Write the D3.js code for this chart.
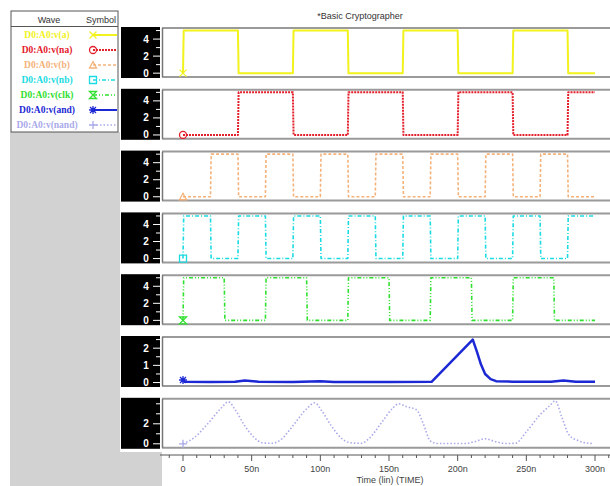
<!DOCTYPE html>
<html><head><meta charset="utf-8">
<script src="https://cdn.jsdelivr.net/npm/d3@7"></script>
<style>body{margin:0;background:#fff;}svg{display:block;}</style>
</head><body>
<script>
// ---- data (time in ns, value in V) ----
const sigA = [[0,0],[0.5,5],[40,5],[40.5,0],[80,0],[80.5,5],[120,5],[120.5,0],[160,0],[160.5,5],[200,5],[200.5,0],[240,0],[240.5,5],[280,5],[280.5,0],[300,0]];
const sigNA = [[0,0],[40,0],[40.5,5],[80,5],[80.5,0],[120,0],[120.5,5],[160,5],[160.5,0],[200,0],[200.5,5],[240,5],[240.5,0],[280,0],[280.5,5],[300,5]];
const sigB = [[0,0],[20,0],[20.5,5],[40,5],[40.5,0],[60,0],[60.5,5],[80,5],[80.5,0],[100,0],[100.5,5],[120,5],[120.5,0],[140,0],[140.5,5],[160,5],[160.5,0],[180,0],[180.5,5],[200,5],[200.5,0],[220,0],[220.5,5],[240,5],[240.5,0],[260,0],[260.5,5],[280,5],[280.5,0],[300,0]];
const sigNB = [[0,0],[0.5,5],[20,5],[20.5,0],[40,0],[40.5,5],[60,5],[60.5,0],[80,0],[80.5,5],[100,5],[100.5,0],[120,0],[120.5,5],[140,5],[140.5,0],[160,0],[160.5,5],[180,5],[180.5,0],[200,0],[200.5,5],[220,5],[220.5,0],[240,0],[240.5,5],[260,5],[260.5,0],[280,0],[280.5,5],[300,5]];
const sigCLK = [[0,0],[0.5,5],[30,5],[30.5,0],[60,0],[60.5,5],[90,5],[90.5,0],[120,0],[120.5,5],[150,5],[150.5,0],[180,0],[180.5,5],[210,5],[210.5,0],[240,0],[240.5,5],[270,5],[270.5,0],[300,0]];
const sigAND = [[0,0.15],[1,0.05],[20,0.03],[38,0.05],[45,0.12],[55,0.05],[80,0.03],[100,0.07],[110,0.03],[150,0.03],[181,0.04],[211,2.5],[214,1.8],[217,1.05],[220,0.5],[224,0.2],[228,0.08],[240,0.05],[268,0.05],[277,0.12],[286,0.05],[300,0.05]];
const sigNAND = [[0,0],[8,0.6],[18,2],[28,3.6],[33,4.2],[38,3.4],[45,1.8],[52,0.6],[58,0.1],[65,0.05],[72,0.5],[80,1.8],[90,3.5],[96,4.1],[101,3.3],[108,1.8],[115,0.6],[122,0.1],[130,0.05],[136,0.6],[145,2.2],[153,3.6],[157,4.0],[163,3.7],[170,3.4],[175,2.0],[180,0.3],[185,0.03],[205,0.03],[212,0.2],[220,0.5],[228,0.2],[235,0.03],[242,0.05],[250,1.2],[260,2.9],[267,3.8],[271,4.3],[276,2.6],[281,0.9],[288,0.3],[294,0.08],[299,0.03]];

const seriesNames = ["D0:A0:v(a)","D0:A0:v(na)","D0:A0:v(b)","D0:A0:v(nb)","D0:A0:v(clk)","D0:A0:v(and)","D0:A0:v(nand)"];
const seriesData = [sigA, sigNA, sigB, sigNB, sigCLK, sigAND, sigNAND];
const yTickLabels = [[0,2,4],[0,2,4],[0,2,4],[0,2,4],[0,2,4],[0,1,2],[0,2]];
const yMinorTicks = [[1,3,5],[1,3,5],[1,3,5],[1,3,5],[1,3,5],[0.5,1.5,2.5],[1,3,4]];
const xTickLabels = ["0","50n","100n","150n","200n","250n","300n"];
const xTickValues = [0,50,100,150,200,250,300];

// ---- styles ----
const colors = ["#f2f21c","#e4202c","#f4b27a","#1adbe2","#2fe02f","#1c28d4","#aaaaea"];
const dashes = [null,"2,1","3,2","4,2,1,2","4,2,1,2,1,2",null,"1.5,2"];
const widths = [2,2,1.6,1.6,1.6,2.5,1.6];
const markers = ["x","circle","triangle","square","hourglass","asterisk","plus"];
const domains = [[-0.45,5.3],[-0.45,5.3],[-0.45,5.3],[-0.45,5.3],[-0.45,5.3],[-0.2,2.65],[-0.4,4.5]];

const W=610,H=486;
const svg=d3.select("body").append("svg").attr("width",W).attr("height",H);
const defs=svg.append("defs");

// gray background column
svg.append("rect").attr("x",10).attr("y",132).attr("width",110).attr("height",H-132).attr("fill","#d2d2d2");
svg.append("rect").attr("x",118).attr("y",452).attr("width",44).attr("height",H-452).attr("fill","#d2d2d2");

// title
svg.append("text").attr("x",360).attr("y",19).attr("text-anchor","middle")
  .attr("font-family","Liberation Sans, Arial, sans-serif").attr("font-size",9).attr("fill","#333")
  .text("*Basic Cryptographer");

const x=d3.scaleLinear().domain([0,300]).range([183,595]);
const plotL=162, plotR=610;

function markerPath(type){
  switch(type){
    case "x": return "M-3.5,-3.5L3.5,3.5M-3.5,3.5L3.5,-3.5";
    case "circle": return "M3.5,0A3.5,3.5 0 1,1 -3.5,0A3.5,3.5 0 1,1 3.5,0";
    case "triangle": return "M0,-3.5L3.5,3L-3.5,3Z";
    case "square": return "M-3.5,-3.5H3.5V3.5H-3.5Z";
    case "hourglass": return "M-3.5,-3.5H3.5L-3.5,3.5H3.5Z";
    case "asterisk": return "M-4,0H4M0,-4V4M-3,-3L3,3M-3,3L3,-3";
    case "plus": return "M-4,0H4M0,-4V4";
  }
}

const panelH=51;
seriesData.forEach((data,i)=>{
  const T=27+i*61.8;
  const y=d3.scaleLinear().domain(domains[i]).range([T+panelH-1,T+1]);
  const g=svg.append("g");
  g.append("rect").attr("x",121).attr("y",T).attr("width",39).attr("height",panelH).attr("fill","#000");
  const cid="clipL"+i;
  defs.append("clipPath").attr("id",cid).append("rect").attr("x",121).attr("y",T).attr("width",39).attr("height",panelH);
  g.append("text").attr("clip-path",`url(#${cid})`)
    .attr("transform",`translate(128,${T+panelH-2}) rotate(-90)`)
    .attr("font-family","Liberation Sans, Arial, sans-serif").attr("font-size",9).attr("fill","#fff")
    .attr("dy","0.35em").text("Voltages (lin)");
  yTickLabels[i].forEach(v=>{
    g.append("text").attr("x",146).attr("y",y(v)).attr("dy","0.35em").attr("text-anchor","middle")
      .attr("font-family","Liberation Sans, Arial, sans-serif").attr("font-size",10).attr("font-weight","bold").attr("fill","#fff").text(v);
    g.append("line").attr("x1",153).attr("x2",160).attr("y1",y(v)).attr("y2",y(v)).attr("stroke","#fff").attr("stroke-width",1);
  });
  yMinorTicks[i].forEach(v=>{
    if(y(v)<T+1||y(v)>T+panelH-1) return;
    g.append("line").attr("x1",156).attr("x2",160).attr("y1",y(v)).attr("y2",y(v)).attr("stroke","#fff").attr("stroke-width",1);
  });
  g.append("rect").attr("x",plotL).attr("y",T+1).attr("width",plotR-plotL).attr("height",panelH-2).attr("fill","#fff");
  g.append("line").attr("x1",plotL).attr("x2",plotR).attr("y1",T+1).attr("y2",T+1).attr("stroke","#9a9a9a").attr("stroke-width",2);
  g.append("line").attr("x1",plotL).attr("x2",plotR).attr("y1",T+panelH-1).attr("y2",T+panelH-1).attr("stroke","#9a9a9a").attr("stroke-width",2);
  g.append("line").attr("x1",plotL+0.5).attr("x2",plotL+0.5).attr("y1",T+1).attr("y2",T+panelH-1).attr("stroke","#777").attr("stroke-width",1.5);
  const pid="clipP"+i;
  defs.append("clipPath").attr("id",pid).append("rect").attr("x",plotL+1).attr("y",T+1).attr("width",plotR-plotL).attr("height",panelH-2);
  const line=d3.line().x(d=>x(d[0])).y(d=>y(d[1]))
    .curve(i===6?d3.curveMonotoneX:d3.curveLinear);
  const p=g.append("path").datum(data).attr("clip-path",`url(#${pid})`)
    .attr("d",line).attr("fill","none").attr("stroke",colors[i]).attr("stroke-width",widths[i]).attr("stroke-linejoin","round");
  if(dashes[i]) p.attr("stroke-dasharray",dashes[i]);
  g.append("path").attr("d",markerPath(markers[i]))
    .attr("transform",`translate(${x(data[0][0])},${Math.min(y(data[0][1]),T+panelH-4)})`)
    .attr("fill","none").attr("stroke",colors[i]).attr("stroke-width",1.3);
});

// x axis
const axY=455;
const ax=svg.append("g");
ax.append("line").attr("x1",160).attr("x2",610).attr("y1",axY).attr("y2",axY).attr("stroke","#555").attr("stroke-width",1);
d3.range(-10,311,10).forEach(t=>{
  const major=t%50===0;
  ax.append("line").attr("x1",x(t)).attr("x2",x(t)).attr("y1",axY).attr("y2",axY+(major?6:3)).attr("stroke","#555");
});
xTickValues.forEach((t,k)=>{
  ax.append("text").attr("x",x(t)).attr("y",axY+17).attr("text-anchor","middle")
    .attr("font-family","Liberation Sans, Arial, sans-serif").attr("font-size",9).attr("fill","#444").text(xTickLabels[k]);
});
ax.append("text").attr("x",390).attr("y",483).attr("text-anchor","middle")
  .attr("font-family","Liberation Sans, Arial, sans-serif").attr("font-size",9).attr("fill","#444").text("Time (lin) (TIME)");

// legend
const lg=svg.append("g");
lg.append("rect").attr("x",11).attr("y",11).attr("width",107).attr("height",121).attr("fill","#fff").attr("stroke","#555");
defs.append("clipPath").attr("id","clipLeg").append("rect").attr("x",11).attr("y",11).attr("width",107).attr("height",121);
lg.append("text").attr("x",49).attr("y",23).attr("text-anchor","middle").attr("font-family","Liberation Sans, Arial, sans-serif").attr("font-size",9).attr("fill","#333").text("Wave");
lg.append("text").attr("x",86).attr("y",23).attr("clip-path","url(#clipLeg)").attr("font-family","Liberation Sans, Arial, sans-serif").attr("font-size",9).attr("fill","#333").text("Symbol");
lg.append("line").attr("x1",11).attr("x2",118).attr("y1",26.5).attr("y2",26.5).attr("stroke","#555");
seriesNames.forEach((n,i)=>{
  const ry=35+i*15;
  lg.append("text").attr("x",47).attr("y",ry).attr("dy","0.35em").attr("text-anchor","middle")
    .attr("font-family","Liberation Serif, Times New Roman, serif").attr("font-size",9.5).attr("font-weight","bold")
    .attr("fill",colors[i]).text(n);
  const l=lg.append("line").attr("x1",93).attr("x2",117).attr("y1",ry).attr("y2",ry).attr("stroke",colors[i]).attr("stroke-width",Math.min(widths[i],2));
  if(dashes[i]) l.attr("stroke-dasharray",dashes[i]);
  lg.append("path").attr("d",markerPath(markers[i])).attr("transform",`translate(93,${ry})`)
    .attr("fill","none").attr("stroke",colors[i]).attr("stroke-width",1.3);
});
</script>
</body></html>
